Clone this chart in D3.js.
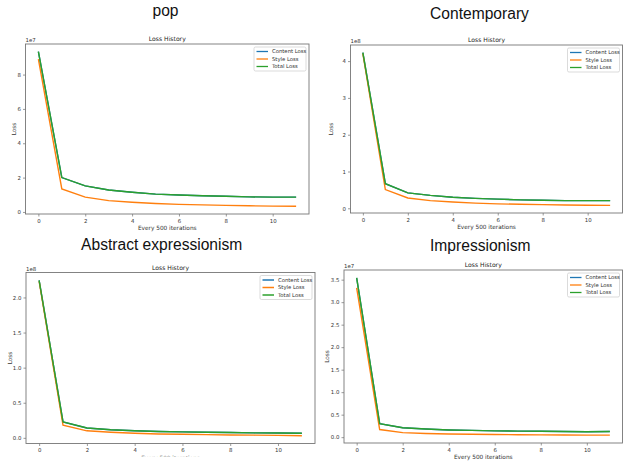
<!DOCTYPE html>
<html lang="en">
	<head>
		<meta charset="utf-8">
		<title>Loss History</title>
		<script type="text/javascript" src="https://cdn.jsdelivr.net/npm/d3@7"></script>
		<style type="text/css">
			body { margin: 0; background: #fff; }
			svg { display: block; }
		</style>
	</head>
	<body>
		<script type="text/javascript">

			// data (every 500 iterations)
			var iterations = [0, 1, 2, 3, 4, 5, 6, 7, 8, 9, 10, 11]
			var seriesNames = ["Content Loss", "Style Loss", "Total Loss"]
			var xTicks = [0, 2, 4, 6, 8, 10]

			// pop, 1e7
			var popContent = [9.33, 2.0, 1.52, 1.28, 1.15, 1.04, 0.99, 0.94, 0.91, 0.88, 0.86, 0.86]
			var popStyle = [8.9, 1.34, 0.86, 0.66, 0.56, 0.49, 0.44, 0.41, 0.38, 0.36, 0.34, 0.33]
			var popTotal = [9.33, 2.0, 1.52, 1.28, 1.15, 1.04, 0.99, 0.94, 0.91, 0.88, 0.86, 0.86]
			var popTicks = [0, 2, 4, 6, 8]

			// contemporary, 1e8
			var conContent = [4.23, 0.67, 0.42, 0.35, 0.30, 0.27, 0.25, 0.23, 0.22, 0.21, 0.21, 0.21]
			var conStyle = [4.2, 0.51, 0.28, 0.21, 0.17, 0.14, 0.12, 0.11, 0.10, 0.09, 0.085, 0.08]
			var conTotal = [4.23, 0.67, 0.42, 0.35, 0.30, 0.27, 0.25, 0.23, 0.22, 0.21, 0.21, 0.21]
			var conTicks = [0, 1, 2, 3, 4]

			// abstract expressionism, 1e8
			var absContent = [2.245, 0.226, 0.14, 0.115, 0.10, 0.09, 0.085, 0.08, 0.075, 0.07, 0.068, 0.065]
			var absStyle = [2.23, 0.18, 0.10, 0.08, 0.065, 0.055, 0.05, 0.045, 0.04, 0.038, 0.035, 0.03]
			var absTotal = [2.245, 0.226, 0.14, 0.115, 0.10, 0.09, 0.085, 0.08, 0.075, 0.07, 0.068, 0.065]
			var absTicks = [0, 0.5, 1.0, 1.5, 2.0]

			// impressionism, 1e7
			var impContent = [3.54, 0.30, 0.21, 0.18, 0.16, 0.15, 0.14, 0.135, 0.13, 0.125, 0.12, 0.125]
			var impStyle = [3.32, 0.17, 0.10, 0.08, 0.07, 0.065, 0.06, 0.055, 0.05, 0.048, 0.045, 0.045]
			var impTotal = [3.54, 0.30, 0.21, 0.18, 0.16, 0.15, 0.14, 0.135, 0.13, 0.125, 0.12, 0.125]
			var impTicks = [0, 0.5, 1.0, 1.5, 2.0, 2.5, 3.0, 3.5]

			var colors = ["#1f77b4", "#ff7f0e", "#2ca02c"]

			var panels = [
				{ title: "pop", exp: "1e7", series: [popContent, popStyle, popTotal], ticks: popTicks, fmt: d3.format("d"),
				  box: [25.5, 309, 44, 214], tx: 165.5, ty: 16, ylx: 14 },
				{ title: "Contemporary", exp: "1e8", series: [conContent, conStyle, conTotal], ticks: conTicks, fmt: d3.format("d"),
				  box: [350.5, 622.5, 45, 213], tx: 479.5, ty: 18.5, ylx: 331 },
				{ title: "Abstract expressionism", exp: "1e8", series: [absContent, absStyle, absTotal], ticks: absTicks, fmt: d3.format(".1f"),
				  box: [26, 315, 272.5, 443.5], tx: 161.7, ty: 249.5, ylx: 10 },
				{ title: "Impressionism", exp: "1e7", series: [impContent, impStyle, impTotal], ticks: impTicks, fmt: d3.format(".1f"),
				  box: [344, 622.5, 270, 443], tx: 480.3, ty: 250.5, ylx: 327 }
			]

			var w = 623, h = 463
			var font = "DejaVu Sans, sans-serif"

			var svg = d3.select("body").append("svg").attr("width", w).attr("height", h)

			// the lower-left picture is cut just under its tick labels
			svg.append("clipPath").attr("id", "cut")
				.append("rect").attr("x", 0).attr("y", 0).attr("width", 330).attr("height", 456.5)

			panels.forEach(function(p) {
				var g = svg.append("g")
				if (p.title == "Abstract expressionism") g.attr("clip-path", "url(#cut)")

				var left = p.box[0], right = p.box[1], top = p.box[2], bottom = p.box[3]

				var all = d3.merge(p.series)
				var lo = d3.min(all), hi = d3.max(all), m = (hi - lo) * 0.05

				var x = d3.scaleLinear().domain([-0.55, 11.55]).range([left, right])
				var y = d3.scaleLinear().domain([lo - m, hi + m]).range([bottom, top])

				// big title
				g.append("text")
					.attr("x", p.tx).attr("y", p.ty)
					.attr("text-anchor", "middle")
					.attr("font-family", "Liberation Sans, Arial, sans-serif")
					.attr("font-size", "15.6px")
					.attr("fill", "#111")
					.text(p.title)

				// lines
				var line = d3.line()
					.x(function(d, i) { return x(iterations[i]) })
					.y(function(d) { return y(d) })

				p.series.forEach(function(s, k) {
					g.append("path")
						.datum(s)
						.attr("d", line)
						.attr("fill", "none")
						.attr("stroke", colors[k])
						.attr("stroke-width", 1.4)
				})

				// axes
				var xAxis = d3.axisBottom(x).tickValues(xTicks).tickSize(2.5).tickPadding(2.2)
				var yAxis = d3.axisLeft(y).tickValues(p.ticks).tickFormat(p.fmt).tickSize(2.5).tickPadding(2.2)

				var gx = g.append("g").attr("transform", "translate(0," + bottom + ")").call(xAxis)
				var gy = g.append("g").attr("transform", "translate(" + left + ",0)").call(yAxis)
				;[gx, gy].forEach(function(a) {
					a.select(".domain").remove()
					a.selectAll("line").attr("stroke", "#555").attr("stroke-width", 0.6)
					a.selectAll("text").attr("font-family", font).attr("font-size", "5.4px").attr("fill", "#333")
				})

				// frame
				g.append("rect")
					.attr("x", left).attr("y", top)
					.attr("width", right - left).attr("height", bottom - top)
					.attr("fill", "none").attr("stroke", "#777").attr("stroke-width", 0.9)

				// small texts
				g.append("text")
					.attr("x", (left + right) / 2).attr("y", top - 3)
					.attr("text-anchor", "middle")
					.attr("font-family", font).attr("font-size", "6.1px").attr("fill", "#222")
					.text("Loss History")

				g.append("text")
					.attr("x", left).attr("y", top - 2)
					.attr("font-family", font).attr("font-size", "5.4px").attr("fill", "#333")
					.text(p.exp)

				g.append("text")
					.attr("x", (left + right) / 2).attr("y", bottom + 16)
					.attr("text-anchor", "middle")
					.attr("font-family", font).attr("font-size", "5.8px").attr("fill", "#333")
					.text("Every 500 iterations")

				g.append("text")
					.attr("transform", "translate(" + p.ylx + "," + ((top + bottom) / 2) + ") rotate(-90)")
					.attr("text-anchor", "middle")
					.attr("dy", "0.35em")
					.attr("font-family", font).attr("font-size", "5.8px").attr("fill", "#333")
					.text("Loss")

				// legend
				var lw = 52, lh = 24
				var lx = right - 3 - lw, ly = top + 3
				var leg = g.append("g").attr("transform", "translate(" + lx + "," + ly + ")")
				leg.append("rect")
					.attr("width", lw).attr("height", lh).attr("rx", 1.5)
					.attr("fill", "#fff").attr("stroke", "#ccc").attr("stroke-width", 0.7)

				leg.selectAll(".item")
					.data(seriesNames)
					.enter()
					.append("g")
					.attr("class", "item")
					.attr("transform", function(d, i) { return "translate(2.5," + (4.5 + i * 7.5) + ")" })
					.each(function(d, i) {
						var e = d3.select(this)
						e.append("line").attr("x1", 0).attr("x2", 11.5).attr("y1", 0).attr("y2", 0)
							.attr("stroke", colors[i]).attr("stroke-width", 1.3)
						e.append("text").attr("x", 15.5).attr("y", 0).attr("dy", "0.35em")
							.attr("font-family", font).attr("font-size", "5.3px").attr("fill", "#333")
							.text(d)
					})
			})

		</script>
	</body>
</html>
